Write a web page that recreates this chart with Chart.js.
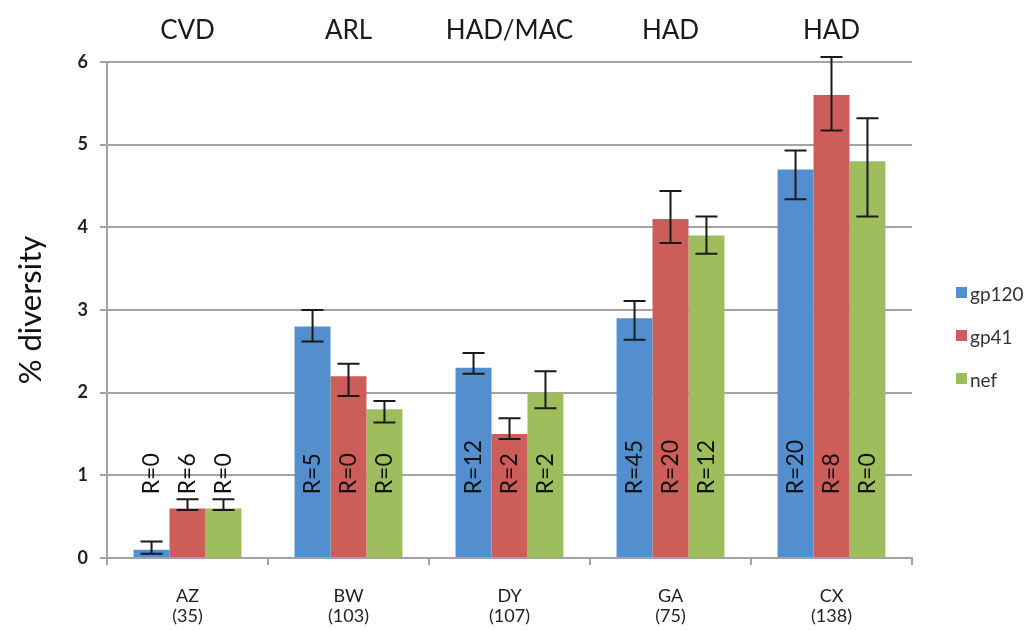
<!DOCTYPE html>
<html>
<head>
<meta charset="utf-8">
<script src="https://cdn.jsdelivr.net/npm/chart.js@4.4.1/dist/chart.umd.min.js"></script>
<style>
  body { margin: 0; background: #fff; }
  #wrap { width: 1033px; height: 630px; }
</style>
</head>
<body>
<div id="wrap"><canvas id="chart" width="1033" height="630"></canvas></div>
<script>
// categories (bottom) and group labels (top)
const categories = [['AZ', '(35)'], ['BW', '(103)'], ['DY', '(107)'], ['GA', '(75)'], ['CX', '(138)']];
const groupLabels = ['CVD', 'ARL', 'HAD/MAC', 'HAD', 'HAD'];
const seriesNames = ['gp120', 'gp41', 'nef'];
const yTicks = [0, 1, 2, 3, 4, 5, 6];

// % diversity
const gp120 = [0.1, 2.8, 2.3, 2.9, 4.7];
const gp41 = [0.6, 2.2, 1.5, 4.1, 5.6];
const nef = [0.6, 1.8, 2.0, 3.9, 4.8];

// error bar ends
const gp120Low = [0.05, 2.62, 2.23, 2.64, 4.34];
const gp120High = [0.2, 3.0, 2.48, 3.11, 4.93];
const gp41Low = [0.58, 1.96, 1.44, 3.81, 5.17];
const gp41High = [0.71, 2.35, 1.69, 4.44, 6.06];
const nefLow = [0.58, 1.64, 1.81, 3.68, 4.13];
const nefHigh = [0.71, 1.9, 2.26, 4.13, 5.32];

// R counts written on the bars
const gp120R = ['R=0', 'R=5', 'R=12', 'R=45', 'R=20'];
const gp41R = ['R=6', 'R=0', 'R=2', 'R=20', 'R=8'];
const nefR = ['R=0', 'R=0', 'R=2', 'R=12', 'R=0'];

const colors = ['#538fcf', '#cd5d58', '#9ebe5e'];
const errLow = [gp120Low, gp41Low, nefLow];
const errHigh = [gp120High, gp41High, nefHigh];
const rLabels = [gp120R, gp41R, nefR];

const FONT = 'Lato, "Open Sans", sans-serif';
const gridGray = '#a3a3a3';

// error bars + rotated R labels
const overlayPlugin = {
    id: 'overlay',
    afterDatasetsDraw(chart) {
        const ctx = chart.ctx;
        const y = chart.scales.y;
        ctx.save();
        chart.data.datasets.forEach((ds, i) => {
            const meta = chart.getDatasetMeta(i);
            meta.data.forEach((bar, j) => {
                const x = bar.x;
                const yl = y.getPixelForValue(errLow[i][j]);
                const yh = y.getPixelForValue(errHigh[i][j]);
                ctx.strokeStyle = '#1a1a1a';
                ctx.lineWidth = 2;
                ctx.beginPath();
                ctx.moveTo(x, yl); ctx.lineTo(x, yh);
                ctx.moveTo(x - 11, yl); ctx.lineTo(x + 11, yl);
                ctx.moveTo(x - 11, yh); ctx.lineTo(x + 11, yh);
                ctx.stroke();

                // label
                ctx.save();
                ctx.translate(x, y.getPixelForValue(0.77));
                ctx.rotate(-Math.PI / 2);
                ctx.fillStyle = '#111';
                ctx.font = '23px ' + FONT;
                ctx.textAlign = 'left';
                ctx.textBaseline = 'middle';
                ctx.fillText(rLabels[i][j], 0, 0);
                ctx.restore();
            });
        });
        ctx.restore();
    },
    afterDraw(chart) {
        // legend on the right
        const ctx = chart.ctx;
        const area = chart.chartArea;
        const cy = (area.top + area.bottom) / 2 - 17;
        ctx.save();
        ctx.font = '19px ' + FONT;
        ctx.textBaseline = 'middle';
        ctx.textAlign = 'left';
        seriesNames.forEach((name, i) => {
            const yy = cy + i * 43;
            ctx.fillStyle = colors[i];
            ctx.fillRect(area.right + 44, yy - 6, 11, 11);
            ctx.fillStyle = '#333';
            ctx.fillText(name, area.right + 58, yy + 2);
        });
        ctx.restore();
    }
};

new Chart(document.getElementById('chart').getContext('2d'), {
    type: 'bar',
    data: {
        labels: categories,
        datasets: seriesNames.map((name, i) => ({
            label: name,
            data: [gp120, gp41, nef][i],
            backgroundColor: colors[i],
            borderWidth: 0,
            categoryPercentage: 0.67,
            barPercentage: 1.0,
        })),
    },
    options: {
        responsive: false,
        animation: false,
        layout: { padding: { left: 0, right: 121, top: 0, bottom: 0 } },
        plugins: {
            legend: { display: false },
            tooltip: { enabled: false },
        },
        scales: {
            x: {
                position: 'bottom',
                offset: true,
                grid: { drawOnChartArea: false, drawTicks: true, tickLength: 7, color: gridGray, lineWidth: 2 },
                border: { color: gridGray, width: 2 },
                ticks: { color: '#222', font: { family: FONT, size: 18, lineHeight: 1.1 }, padding: 21, maxRotation: 0 },
                afterFit: s => { s.height = 72; },
            },
            x2: {
                type: 'category',
                position: 'top',
                labels: groupLabels,
                offset: true,
                grid: { display: false, drawTicks: false },
                border: { display: false },
                ticks: { color: '#1a1a1a', font: { family: FONT, size: 26 }, padding: 16, maxRotation: 0 },
                afterFit: s => { s.height = 62; },
            },
            y: {
                min: 0,
                max: 6,
                afterBuildTicks: s => { s.ticks = yTicks.map(v => ({ value: v })); },
                grid: { color: gridGray, lineWidth: 2, tickLength: 7 },
                border: { color: gridGray, width: 2 },
                ticks: { color: '#222', font: { family: FONT, size: 18, weight: 'bold' }, padding: 12 },
                title: { display: true, text: '% diversity', color: '#111', font: { family: FONT, size: 31 }, padding: { top: 12, bottom: 0 } },
                afterFit: s => { s.width = 107; },
            },
        },
    },
    plugins: [overlayPlugin],
});
</script>
</body>
</html>
